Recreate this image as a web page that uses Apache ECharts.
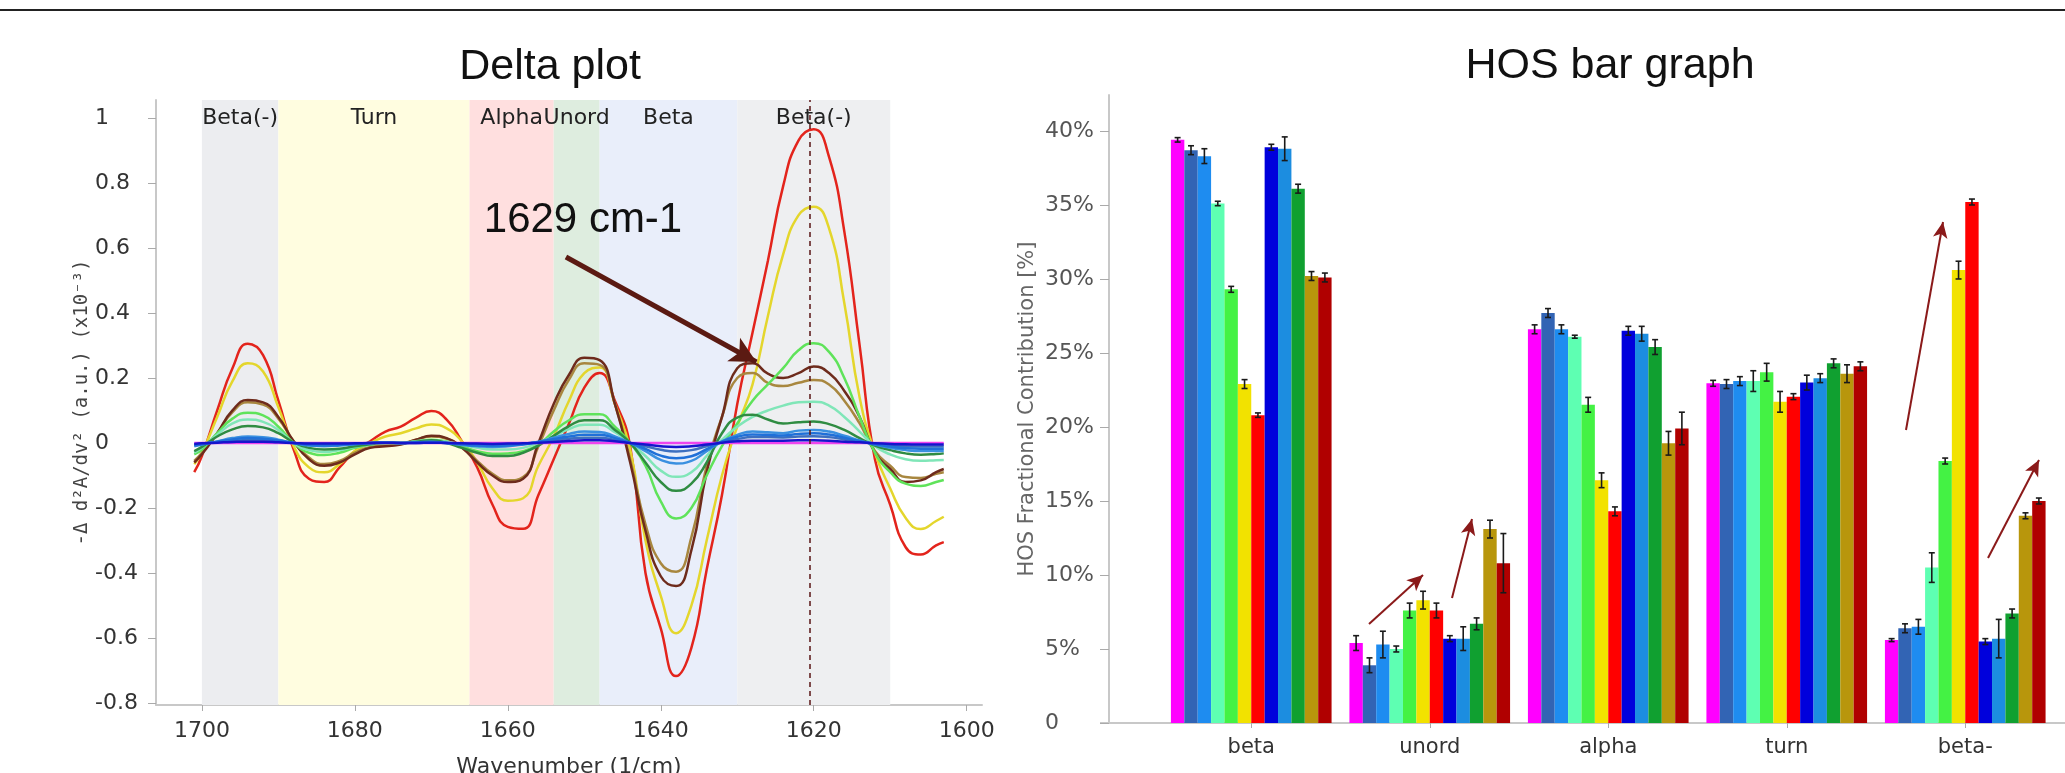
<!DOCTYPE html>
<html>
<head>
<meta charset="utf-8">
<title>Delta plot / HOS bar graph</title>
<script src="https://cdn.jsdelivr.net/npm/echarts@6.0.0/dist/echarts.min.js"></script>
<style>
  html, body { margin: 0; padding: 0; background: #fff; }
  #chart { width: 2065px; height: 773px; }
</style>
</head>
<body>
<div id="chart"></div>
<script>
// ---------------- Delta plot data ----------------
var wavenumbers = [
  1701, 1700, 1698, 1696, 1694, 1692, 1690, 1688, 1686, 1684,
  1682, 1680, 1678, 1676, 1674, 1672, 1670, 1668, 1666, 1664,
  1662, 1660, 1658, 1656, 1654, 1652, 1650, 1648, 1646, 1644,
  1642, 1640, 1638, 1636, 1634, 1632, 1630, 1628, 1626, 1624,
  1622, 1620, 1618, 1616, 1614, 1612, 1610, 1608, 1606, 1604,
  1603
];
var lineRed = [
  -0.09, -0.04, 0.10, 0.23, 0.305, 0.27, 0.13, -0.02, -0.11, -0.12,
  -0.075, -0.025, 0.005, 0.035, 0.05, 0.078, 0.098, 0.072, 0.005, -0.075,
  -0.19, -0.258, -0.264, -0.16, -0.05, 0.06, 0.17, 0.215, 0.13, -0.01,
  -0.4, -0.57, -0.717, -0.63, -0.39, -0.16, 0.12, 0.34, 0.56, 0.79,
  0.93, 0.965, 0.88, 0.65, 0.3, -0.05, -0.19, -0.32, -0.343, -0.315,
  -0.305
];
var lineYellow = [
  -0.065, -0.03, 0.08, 0.19, 0.245, 0.22, 0.11, -0.01, -0.075, -0.09,
  -0.065, -0.025, 0.0, 0.02, 0.03, 0.045, 0.057, 0.045, 0.005, -0.06,
  -0.14, -0.178, -0.17, -0.07, 0.02, 0.13, 0.215, 0.232, 0.12, -0.02,
  -0.3, -0.47, -0.585, -0.5, -0.3, -0.1, 0.05, 0.18, 0.39, 0.58,
  0.70, 0.727, 0.66, 0.43, 0.14, -0.03, -0.14, -0.23, -0.265, -0.24,
  -0.227
];
var lineOlive = [
  -0.055, -0.03, 0.03, 0.095, 0.125, 0.118, 0.075, 0.005, -0.045, -0.065,
  -0.055, -0.03, -0.012, -0.008, -0.003, 0.01, 0.02, 0.013, -0.012, -0.055,
  -0.095, -0.115, -0.105, -0.01, 0.1, 0.195, 0.245, 0.24, 0.12, -0.05,
  -0.25, -0.37, -0.396, -0.29, -0.07, 0.08, 0.2, 0.215, 0.185, 0.175,
  0.185, 0.194, 0.18, 0.13, 0.06, -0.025, -0.07, -0.105, -0.108, -0.095,
  -0.09
];
var lineBrown = [
  -0.06, -0.035, 0.03, 0.1, 0.132, 0.125, 0.08, 0.005, -0.05, -0.07,
  -0.06, -0.035, -0.015, -0.01, -0.005, 0.01, 0.022, 0.015, -0.015, -0.06,
  -0.1, -0.12, -0.11, 0.0, 0.12, 0.21, 0.262, 0.255, 0.12, -0.06,
  -0.27, -0.41, -0.44, -0.33, -0.09, 0.08, 0.23, 0.245, 0.213, 0.2,
  0.215, 0.235, 0.215, 0.16, 0.08, -0.03, -0.08, -0.12, -0.115, -0.09,
  -0.08
];
var lineLightGreen = [
  -0.035, -0.02, 0.03, 0.075, 0.093, 0.085, 0.05, 0.0, -0.03, -0.037,
  -0.03, -0.015, -0.005, 0.0, 0.0, 0.005, 0.01, 0.005, -0.01, -0.025,
  -0.033, -0.032, -0.025, -0.005, 0.035, 0.07, 0.088, 0.088, 0.05, 0.0,
  -0.07, -0.18, -0.232, -0.2, -0.1, -0.01, 0.06, 0.13, 0.18, 0.23,
  0.285, 0.307, 0.28, 0.2, 0.08, -0.03, -0.09, -0.125, -0.132, -0.12,
  -0.114
];
var lineMint = [
  -0.03, -0.015, 0.025, 0.06, 0.072, 0.065, 0.04, 0.0, -0.022, -0.028,
  -0.022, -0.012, -0.005, 0.0, 0.0, 0.005, 0.008, 0.004, -0.005, -0.015,
  -0.02, -0.02, -0.015, 0.0, 0.022, 0.043, 0.056, 0.056, 0.033, 0.0,
  -0.04, -0.085, -0.104, -0.09, -0.04, 0.01, 0.05, 0.08, 0.1, 0.115,
  0.125, 0.127, 0.115, 0.08, 0.035, -0.01, -0.035, -0.05, -0.055, -0.053,
  -0.052
];
var lineDarkGreen = [
  -0.025, -0.012, 0.02, 0.042, 0.052, 0.048, 0.03, 0.002, -0.015, -0.02,
  -0.018, -0.01, -0.004, 0.0, 0.0, 0.004, 0.008, 0.0, -0.015, -0.03,
  -0.04, -0.04, -0.03, -0.008, 0.022, 0.052, 0.07, 0.07, 0.04, 0.0,
  -0.06, -0.12, -0.147, -0.125, -0.06, 0.03, 0.078, 0.087, 0.072, 0.06,
  0.064, 0.066, 0.058, 0.04, 0.015, -0.008, -0.022, -0.032, -0.036, -0.034,
  -0.032
];
var lineMagenta = [
  0, 0, 0, 0, 0, 0, 0, 0, 0, 0,
  0, 0, 0, 0, 0, 0, 0, 0, 0, 0,
  0, 0, 0, 0, 0, 0, 0, 0, 0, 0,
  0, 0, 0, 0, 0, 0, 0, 0, 0, 0,
  0, 0, 0, 0, 0, 0, 0, 0, 0, 0,
  0
];
var lineSteel = [
  -0.005, -0.002, 0.002, 0.006, 0.009, 0.008, 0.005, 0.0, -0.003, -0.004,
  -0.003, -0.002, 0.0, 0.002, 0.0, 0.0, 0.002, 0.0, -0.003, -0.005,
  -0.006, -0.005, -0.002, 0.002, 0.008, 0.013, 0.016, 0.016, 0.009, 0.0,
  -0.01, -0.021, -0.026, -0.022, -0.01, 0.002, 0.012, 0.018, 0.018, 0.017,
  0.02, 0.021, 0.018, 0.011, 0.004, -0.002, -0.007, -0.01, -0.011, -0.011,
  -0.011
];
var lineDodger = [
  -0.01, -0.005, 0.005, 0.015, 0.02, 0.018, 0.01, 0.0, -0.008, -0.01,
  -0.008, -0.004, 0.0, 0.002, 0.0, 0.002, 0.004, 0.0, -0.006, -0.01,
  -0.012, -0.01, -0.005, 0.004, 0.016, 0.028, 0.035, 0.034, 0.02, 0.0,
  -0.025, -0.052, -0.063, -0.055, -0.025, 0.005, 0.025, 0.035, 0.033, 0.03,
  0.038, 0.04, 0.035, 0.022, 0.008, -0.005, -0.015, -0.022, -0.025, -0.025,
  -0.025
];
var lineDodger2 = [
  -0.008, -0.004, 0.004, 0.011, 0.015, 0.013, 0.008, 0.0, -0.006, -0.008,
  -0.006, -0.003, 0.0, 0.001, 0.0, 0.002, 0.003, 0.0, -0.004, -0.008,
  -0.009, -0.008, -0.004, 0.003, 0.012, 0.02, 0.025, 0.025, 0.015, 0.0,
  -0.018, -0.039, -0.047, -0.041, -0.019, 0.004, 0.019, 0.026, 0.025, 0.023,
  0.028, 0.03, 0.026, 0.016, 0.006, -0.004, -0.011, -0.016, -0.018, -0.018,
  -0.018
];
var lineBlue = [
  -0.003, -0.001, 0.001, 0.003, 0.004, 0.004, 0.002, 0.0, -0.002, -0.002,
  -0.002, -0.001, 0.0, 0.001, 0.0, 0.0, 0.001, 0.0, -0.001, -0.002,
  -0.003, -0.002, -0.001, 0.001, 0.003, 0.006, 0.008, 0.008, 0.005, 0.0,
  -0.005, -0.01, -0.012, -0.01, -0.005, 0.001, 0.005, 0.007, 0.007, 0.007,
  0.008, 0.008, 0.007, 0.004, 0.002, -0.001, -0.003, -0.004, -0.005, -0.005,
  -0.005
];

// 二级结构区间 [名称, 起, 止]
var bands = [
  ['Beta(-)', 1700, 1690],
  ['Turn', 1690, 1665],
  ['Alpha', 1665, 1654],
  ['Unord', 1654, 1648],
  ['Beta', 1648, 1630],
  ['Beta(-)', 1630, 1610]
];
var peakMarker = 1620.5;
var deltaXTicks = [1700, 1680, 1660, 1640, 1620, 1600];
var deltaYTicks = [-0.8, -0.6, -0.4, -0.2, 0, 0.2, 0.4, 0.6, 0.8, 1];

// ---------------- HOS bar graph data ----------------
var hosCategories = ['beta', 'unord', 'alpha', 'turn', 'beta-'];
var betaMean      = [39.4, 38.7, 38.3, 35.1, 29.3, 22.9, 20.8, 38.9, 38.8, 36.1, 30.2, 30.1];
var betaErr       = [0.15, 0.3, 0.5, 0.15, 0.2, 0.3, 0.15, 0.2, 0.8, 0.3, 0.3, 0.3];
var unordMean     = [5.4, 3.9, 5.3, 5.0, 7.6, 8.3, 7.6, 5.7, 5.7, 6.7, 13.1, 10.8];
var unordErr      = [0.5, 0.5, 0.9, 0.2, 0.5, 0.6, 0.5, 0.2, 0.8, 0.4, 0.6, 2.0];
var alphaMean     = [26.6, 27.7, 26.6, 26.1, 21.5, 16.4, 14.3, 26.5, 26.3, 25.4, 18.9, 19.9];
var alphaErr      = [0.3, 0.3, 0.3, 0.1, 0.5, 0.5, 0.3, 0.3, 0.5, 0.5, 0.8, 1.1];
var turnMean      = [22.95, 22.9, 23.1, 23.1, 23.7, 21.7, 22.05, 23.0, 23.3, 24.3, 23.6, 24.1];
var turnErr       = [0.2, 0.3, 0.3, 0.7, 0.6, 0.7, 0.2, 0.5, 0.3, 0.3, 0.6, 0.3];
var betaMinusMean = [5.6, 6.4, 6.5, 10.5, 17.7, 30.6, 35.2, 5.5, 5.7, 7.4, 14.0, 15.0];
var betaMinusErr  = [0.1, 0.3, 0.5, 1.0, 0.2, 0.6, 0.2, 0.2, 1.3, 0.3, 0.2, 0.2];
var hosYTicks = [0, 5, 10, 15, 20, 25, 30, 35, 40];

// ---------------- styles ----------------
var FONT = '"DejaVu Sans", Verdana, sans-serif';
var bandColors = ['#ecedf0', '#fffde0', '#ffdfdf', '#deeddf', '#e9eefa', '#eeeff1'];
var hosColors = ['#ff00ff', '#3264b4', '#1e8cf0', '#5effb2', '#44f244', '#f2e200',
                 '#ff0000', '#0000dc', '#1c8de0', '#10a030', '#b8960c', '#b00000'];
var hosNames = ['S1', 'S2', 'S3', 'S4', 'S5', 'S6', 'S7', 'S8', 'S9', 'S10', 'S11', 'S12'];

var deltaLines = [
  { name: 'S7', values: lineRed, color: '#e3241c' },
  { name: 'S6', values: lineYellow, color: '#e4d62c' },
  { name: 'S11', values: lineOlive, color: '#a8873f' },
  { name: 'S12', values: lineBrown, color: '#6e2b1c' },
  { name: 'S5', values: lineLightGreen, color: '#5fe35a' },
  { name: 'S4', values: lineMint, color: '#80e6b8' },
  { name: 'S10', values: lineDarkGreen, color: '#2f8c42' },
  { name: 'S1', values: lineMagenta, color: '#ee44ee' },
  { name: 'S2', values: lineSteel, color: '#3d6fc0' },
  { name: 'S3', values: lineDodger, color: '#3a90e0' },
  { name: 'S9', values: lineDodger2, color: '#2070d8' },
  { name: 'S8', values: lineBlue, color: '#1515cc' }
];

var hosMeans = [betaMean, unordMean, alphaMean, turnMean, betaMinusMean];
var hosErrs = [betaErr, unordErr, alphaErr, turnErr, betaMinusErr];

var series = [];

// 背景色带 + 标签
series.push({
  type: 'line', xAxisIndex: 0, yAxisIndex: 0, data: [], z: 0, silent: true,
  markArea: {
    silent: true,
    label: { position: 'insideTop', distance: 7, fontSize: 22, color: '#222', fontFamily: FONT },
    data: bands.map(function (b, i) {
      return [
        { name: b[0], xAxis: b[1], itemStyle: { color: bandColors[i], opacity: 1 } },
        { xAxis: b[2] }
      ];
    })
  }
});

deltaLines.forEach(function (l) {
  series.push({
    name: l.name,
    type: 'line',
    xAxisIndex: 0, yAxisIndex: 0,
    z: 2,
    smooth: 0.5,
    showSymbol: false,
    silent: true,
    lineStyle: { color: l.color, width: 2.5 },
    itemStyle: { color: l.color },
    data: wavenumbers.map(function (w, i) { return [w, l.values[i]]; })
  });
});

// 1620 虚线
series.push({
  type: 'line', xAxisIndex: 0, yAxisIndex: 0, data: [], z: 6, silent: true,
  markLine: {
    silent: true, symbol: ['none', 'none'], label: { show: false },
    lineStyle: { type: [5, 4], color: '#5a1414', width: 1.5 },
    data: [{ xAxis: peakMarker }]
  }
});
// 1629 cm-1 箭头
series.push({
  type: 'line', xAxisIndex: 0, yAxisIndex: 0, data: [], z: 7, silent: true,
  markLine: {
    silent: true, symbol: ['none', 'arrow'], symbolSize: [20, 26], label: { show: false },
    lineStyle: { type: 'solid', color: '#5b1a12', width: 5 },
    data: [[{ coord: [1652.4, 0.572] }, { coord: [1627.5, 0.249] }]]
  }
});

// 柱状图
hosNames.forEach(function (name, k) {
  series.push({
    name: name,
    type: 'bar',
    xAxisIndex: 1, yAxisIndex: 1,
    barGap: '0%',
    barCategoryGap: '10%',
    silent: true,
    itemStyle: { color: hosColors[k] },
    data: hosMeans.map(function (arr) { return arr[k]; })
  });
});

// 误差线
var errData = [];
hosMeans.forEach(function (arr, c) {
  arr.forEach(function (v, k) {
    errData.push([c, k, v, hosErrs[c][k]]);
  });
});
series.push({
  type: 'custom',
  xAxisIndex: 1, yAxisIndex: 1,
  z: 4,
  silent: true,
  encode: { x: 0, y: 2 },
  data: errData,
  renderItem: function (params, api) {
    var cat = api.value(0);
    var k = api.value(1);
    var mean = api.value(2);
    var err = api.value(3);
    var band = api.size([1, 0])[0];
    var groupW = band * 0.9;
    var bw = groupW / 12;
    var cx = api.coord([cat, 0])[0] - groupW / 2 + (k + 0.5) * bw;
    var yTop = api.coord([cat, mean + err])[1];
    var yBot = api.coord([cat, mean - err])[1];
    var cap = 3;
    var st = { stroke: '#1a1a1a', lineWidth: 1.6 };
    return {
      type: 'group',
      children: [
        { type: 'line', shape: { x1: cx, y1: yTop, x2: cx, y2: yBot }, style: st },
        { type: 'line', shape: { x1: cx - cap, y1: yTop, x2: cx + cap, y2: yTop }, style: st },
        { type: 'line', shape: { x1: cx - cap, y1: yBot, x2: cx + cap, y2: yBot }, style: st }
      ]
    };
  }
});

// 右图趋势箭头
series.push({
  type: 'line', xAxisIndex: 1, yAxisIndex: 1, data: [], z: 8, silent: true,
  markLine: {
    silent: true, symbol: ['none', 'arrow'], symbolSize: [11, 16], label: { show: false },
    lineStyle: { type: 'solid', color: '#8b1a1a', width: 2 },
    data: [
      [{ x: 1369, y: 624 }, { x: 1423, y: 575 }],
      [{ x: 1452, y: 598 }, { x: 1472, y: 519 }],
      [{ x: 1906, y: 430 }, { x: 1943, y: 222 }],
      [{ x: 1988, y: 558 }, { x: 2039, y: 460 }]
    ]
  }
});

var axisGray = '#c8c8c8';

var option = {
  animation: false,
  backgroundColor: '#fff',
  grid: [
    { left: 156, top: 100, width: 826, height: 605, outerBoundsMode: 'none', containLabel: false },
    { left: 1162, top: 95, width: 892.5, height: 628, outerBoundsMode: 'none', containLabel: false }
  ],
  xAxis: [
    {
      gridIndex: 0,
      type: 'value',
      inverse: true,
      min: 1598,
      max: 1706,
      splitLine: { show: false },
      axisLine: { show: true, onZero: false, lineStyle: { color: axisGray, width: 2 } },
      axisTick: { show: true, customValues: deltaXTicks, length: 6, lineStyle: { color: '#aaa' } },
      axisLabel: {
        customValues: deltaXTicks, margin: 15, fontSize: 22, color: '#333', fontFamily: FONT,
        formatter: function (v) { return String(v); }
      },
      name: 'Wavenumber (1/cm)',
      nameLocation: 'middle',
      nameGap: 51,
      nameTextStyle: { fontSize: 22, color: '#333', fontFamily: FONT }
    },
    {
      gridIndex: 1,
      type: 'category',
      data: hosCategories,
      axisLine: { show: true, lineStyle: { color: axisGray, width: 2 } },
      axisTick: { show: true, alignWithLabel: true, length: 5, lineStyle: { color: '#aaa' } },
      axisLabel: { margin: 14, fontSize: 21, color: '#333', fontFamily: FONT },
      splitLine: { show: false }
    }
  ],
  yAxis: [
    {
      gridIndex: 0,
      type: 'value',
      min: -0.806,
      max: 1.055,
      splitLine: { show: false },
      axisLine: { show: true, onZero: false, lineStyle: { color: axisGray, width: 2 } },
      axisTick: { show: true, customValues: deltaYTicks, length: 8, lineStyle: { color: '#aaa' } },
      axisLabel: {
        customValues: deltaYTicks, margin: 61, align: 'left', fontSize: 22, color: '#333', fontFamily: FONT,
        formatter: function (v) { return String(v); }
      },
      name: '-\u0394 d\u00b2A/dv\u00b2 (a.u.) (x10\u207b\u00b3)',
      nameLocation: 'middle',
      nameRotate: 90,
      nameGap: 64,
      nameTextStyle: { fontSize: 19, color: '#444', fontFamily: '"DejaVu Sans Mono", monospace' }
    },
    {
      gridIndex: 1,
      type: 'value',
      min: 0,
      max: 42.43,
      offset: 53,
      splitLine: { show: false },
      axisLine: { show: true, onZero: false, lineStyle: { color: axisGray, width: 2 } },
      axisTick: { show: true, customValues: hosYTicks, length: 9, lineStyle: { color: '#aaa' } },
      axisLabel: {
        customValues: hosYTicks, margin: 64, align: 'left', fontSize: 22, color: '#555', fontFamily: FONT,
        formatter: function (v) { return v === 0 ? '0' : v + '%'; }
      },
      name: 'HOS Fractional Contribution [%]',
      nameLocation: 'middle',
      nameRotate: 90,
      nameGap: 71,
      nameTextStyle: { fontSize: 21, color: '#666', fontFamily: FONT }
    }
  ],
  graphic: [
    { type: 'line', shape: { x1: 0, y1: 10, x2: 2065, y2: 10 }, style: { stroke: '#222', lineWidth: 2 } },
    { type: 'line', shape: { x1: 1100, y1: 723, x2: 1162, y2: 723 }, style: { stroke: axisGray, lineWidth: 2 } },
    { type: 'line', shape: { x1: 2054, y1: 723, x2: 2065, y2: 723 }, style: { stroke: axisGray, lineWidth: 2 } },
    {
      type: 'text', x: 550, y: 67,
      style: { text: 'Delta plot', font: '43px "Liberation Sans", Arial, sans-serif', fill: '#111',
               align: 'center', verticalAlign: 'middle', textAlign: 'center', textVerticalAlign: 'middle' }
    },
    {
      type: 'text', x: 1610, y: 66,
      style: { text: 'HOS bar graph', font: '43px "Liberation Sans", Arial, sans-serif', fill: '#111',
               align: 'center', verticalAlign: 'middle', textAlign: 'center', textVerticalAlign: 'middle' }
    },
    {
      type: 'text', x: 583, y: 220, z: 10,
      style: { text: '1629 cm-1', font: '42px "Liberation Sans", Arial, sans-serif', fill: '#111',
               align: 'center', verticalAlign: 'middle', textAlign: 'center', textVerticalAlign: 'middle' }
    }
  ],
  series: series
};

var chart = echarts.init(document.getElementById('chart'));
chart.setOption(option);
</script>
</body>
</html>
